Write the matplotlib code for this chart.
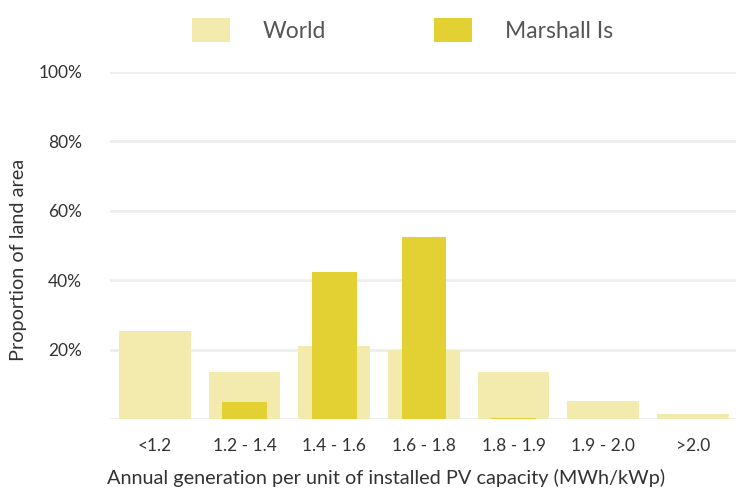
import matplotlib.pyplot as plt
import numpy as np

categories = ['<1.2', '1.2 - 1.4', '1.4 - 1.6', '1.6 - 1.8', '1.8 - 1.9', '1.9 - 2.0', '>2.0']
world = [25.5, 13.5, 21.0, 20.0, 13.5, 5.2, 1.4]
marshall = [0.0, 4.9, 42.5, 52.5, 0.3, 0.0, 0.0]

plt.rcParams['font.family'] = ['Lato', 'DejaVu Sans']

fig = plt.figure(figsize=(7.36, 4.91), dpi=100)
ax = fig.add_axes([0.1495, 0.1466, 0.853, 0.7068])

x = np.arange(len(categories))
ax.bar(x, world, width=0.8, color='#f3ebad', zorder=2, label='World')
ax.bar(x, marshall, width=0.5, color='#e3d133', zorder=3, label='Marshall Is')

ax.set_xlim(-0.5, len(categories) - 0.5)
ax.set_ylim(0, 100)
ax.set_yticks([0, 20, 40, 60, 80, 100])
ax.set_yticklabels(['', '20%', '40%', '60%', '80%', '100%'])
ax.grid(axis='y', color='#eeeeee', linewidth=2, zorder=0)
ax.set_xticks(x)
ax.set_xticklabels(categories)
for s in ax.spines.values():
    s.set_visible(False)
ax.tick_params(axis='both', length=0, labelsize=12.5, colors='#333333')
ax.tick_params(axis='x', pad=14)
ax.tick_params(axis='y', pad=20)

ax.set_xlabel('Annual generation per unit of installed PV capacity (MWh/kWp)',
              fontsize=14.3, color='#333333')
ax.set_ylabel('Proportion of land area', fontsize=14.3, color='#333333')
ax.xaxis.set_label_coords(0.44, -0.145)
ax.yaxis.set_label_coords(-0.132, 0.458)

leg = fig.legend(loc='center', bbox_to_anchor=(0.547, 0.939), ncol=2, frameon=False,
                 fontsize=16.5, handlelength=1.66, handleheight=1.22, handletextpad=1.45,
                 columnspacing=4.7)
for t in leg.get_texts():
    t.set_color('#555555')

fig.savefig('out.png', dpi=100)
